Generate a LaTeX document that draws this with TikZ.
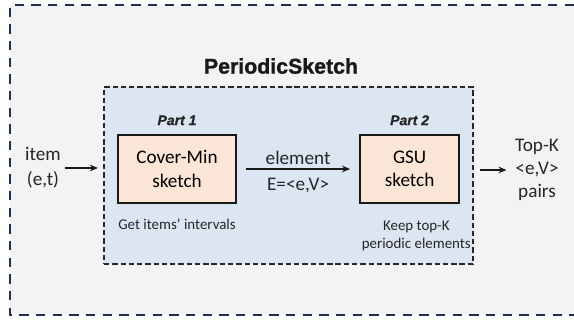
\documentclass[tikz,border=0pt]{standalone}
\usepackage{fontspec}
\setmainfont{Carlito}
\newfontfamily\headfont[FakeBold=1.2]{Liberation Sans Bold}
\newfontfamily\partfont[FakeBold=1.0]{Liberation Sans Bold Italic}
\usetikzlibrary{positioning,arrows.meta}
\definecolor{outerfill}{HTML}{F2F3F5}
\definecolor{outerline}{HTML}{1F3050}
\definecolor{innerfill}{HTML}{DCE6F2}
\definecolor{innerline}{HTML}{262626}
\definecolor{sketchfill}{HTML}{FBE5D6}
\definecolor{textgray}{HTML}{262626}
\tikzset{
  sketchbox/.style={draw=black!90, line width=1.6pt, fill=sketchfill, align=center,
    minimum height=51pt, font=\fontsize{14.4}{17.5}\selectfont},
  plain/.style={align=center, text=textgray, font=\fontsize{14.4}{18.5}\selectfont},
  note/.style={align=center, text=textgray, font=\fontsize{11.2}{13.5}\selectfont},
  partlabel/.style={font=\partfont\fontsize{10.5}{13}\selectfont, text=black!85},
  flow/.style={line width=1.5pt, black!90, -{Stealth[length=6pt,width=5pt]}}
}
\begin{document}
\begin{tikzpicture}[x=0.75pt, y=-0.75pt]
    \useasboundingbox (0,0) rectangle (574,323);
    
    \fill[outerfill] (10,5) rectangle (574,315);
    \draw[outerline, line width=1.6pt, dash pattern=on 7pt off 5.5pt]
        (574,5) -- (10,5) -- (10,315) -- (574,315);
    
    \node[draw=innerline, fill=innerfill, line width=1.2pt, dash pattern=on 4pt off 2.2pt,
          minimum width=276.75pt, minimum height=132.75pt, inner sep=0pt] (periodic) at (288.5,175.5) {};
    \node[font=\headfont\fontsize{16}{19}\selectfont, text=black!90] (title) at (281,66) {PeriodicSketch};
    
    \node[sketchbox, minimum width=88.5pt] (cover) at (177,169) {Cover-Min\\sketch};
    \node[sketchbox, minimum width=74.25pt, right=91.5pt of cover] (gsu) {GSU\\sketch};
    
    \node[partlabel, above=3pt of cover] (part1) {Part 1};
    \node[partlabel, above=3pt of gsu] (part2) {Part 2};
    
    \node[note, below=8pt of cover] (get) {Get items’ intervals};
    \node[note, below=9pt of gsu, xshift=5pt] (keep) {Keep top-K\\periodic elements};
    
    \node[plain] (item) at (43,168) {item\\(e,t)};
    \node[plain, font=\fontsize{14.4}{17}\selectfont] (topk) at (537,170) {Top-K\\<e,V>\\pairs};
    
    \draw[flow, shorten >=4pt] (item.east) -- (periodic.west |- item.east);
    \draw[flow, shorten <=6.75pt, shorten >=6.75pt] (cover.east) --
        node[plain, above=-1pt] {element} node[plain, below=3pt] {E=<e,V>} (gsu.west);
    \draw[flow, shorten <=4.5pt, shorten >=3pt] (periodic.east |- topk.west) -- (topk.west);
\end{tikzpicture}
\end{document}
